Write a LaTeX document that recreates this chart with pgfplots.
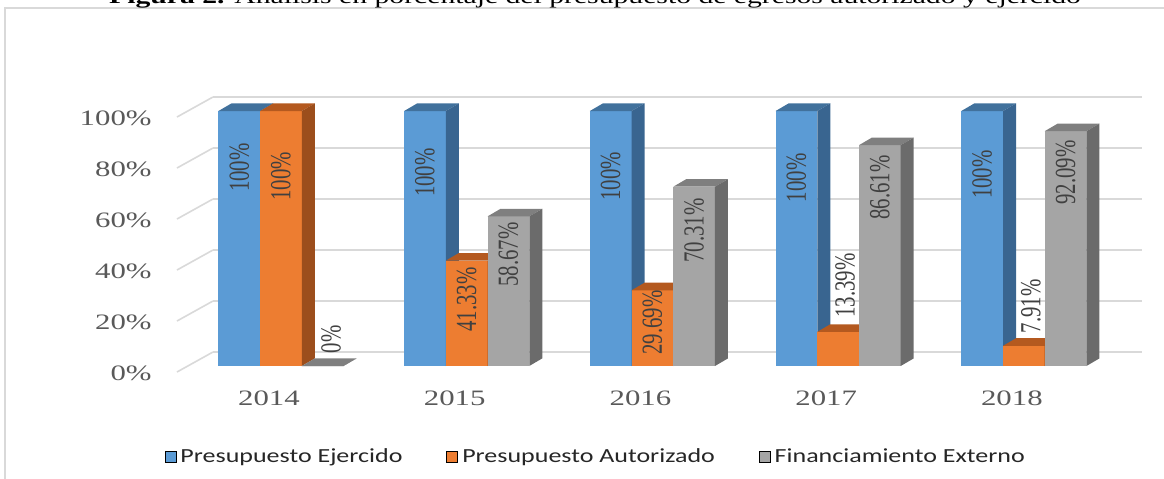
\documentclass[border=0pt]{standalone}
\usepackage{pgfplots}
\pgfplotsset{compat=1.18}
\usepackage{pgfplotstable}
\usepackage{fontspec}
\setmainfont{Liberation Serif}[FakeStretch=1.4]
\newfontfamily\labfont{Liberation Serif}
\newfontfamily\legfont{Carlito}[FakeStretch=1.3]

\definecolor{cBlue}{HTML}{5B9BD5}
\definecolor{cBlueT}{HTML}{41719C}
\definecolor{cBlueS}{HTML}{396590}
\definecolor{cOr}{HTML}{ED7D31}
\definecolor{cOrT}{HTML}{B4591F}
\definecolor{cOrS}{HTML}{9C4E1C}
\definecolor{cGr}{HTML}{A5A5A5}
\definecolor{cGrT}{HTML}{7F7F7F}
\definecolor{cGrS}{HTML}{6B6B6B}
\definecolor{gridc}{HTML}{D9D9D9}
\definecolor{tickc}{HTML}{595959}
\definecolor{labc}{HTML}{404040}
\definecolor{legc}{HTML}{262626}

% front face of a bar: from the value down to the floor
\pgfdeclareplotmark{front3d}{%
 \pgfpathmoveto{\pgfqpoint{-10.425pt}{0pt}}%
 \pgfpathlineto{\pgfqpoint{10.425pt}{0pt}}%
 \pgfpathlineto{\pgfpoint{10.425pt}{-\barH pt}}%
 \pgfpathlineto{\pgfpoint{-10.425pt}{-\barH pt}}%
 \pgfpathclose\pgfusepathqfill}
\pgfdeclareplotmark{top3d}{%
 \pgfpathmoveto{\pgfqpoint{-10.425pt}{0pt}}%
 \pgfpathlineto{\pgfqpoint{10.425pt}{0pt}}%
 \pgfpathlineto{\pgfqpoint{16.925pt}{3.8pt}}%
 \pgfpathlineto{\pgfqpoint{-3.925pt}{3.8pt}}%
 \pgfpathclose\pgfusepathqfill}
\pgfdeclareplotmark{side3d}{%
 \pgfpathmoveto{\pgfqpoint{10.425pt}{0pt}}%
 \pgfpathlineto{\pgfqpoint{16.925pt}{3.8pt}}%
 \pgfpathlineto{\pgfpoint{16.925pt}{3.8pt-\barH pt}}%
 \pgfpathlineto{\pgfpoint{10.425pt}{-\barH pt}}%
 \pgfpathclose\pgfusepathqfill}

% x: category index, v: value, ly: where the label's upper end sits, lx: label offset
\pgfplotstableread{
x v ly lx
0 100 87.5 0
1 100 85.5 0
2 100 84.0 0
3 100 83.5 0
4 100 84.7 0
}\tblBlue
\pgfplotstableread{
x v ly lx
0 100 84.0 0
1 41.33 38.8 0
2 29.69 29.8 0
3 13.39 44.3 0.038
4 7.91 34.1 0.038
}\tblOr
\pgfplotstableread{
x v ly lx
0 0 16.0 0.045
1 58.67 56.5 0
2 70.31 65.9 0
3 86.61 82.7 0
4 92.09 88.6 0
}\tblGr

\pgfplotsset{
  bar3d/.style n args={3}{only marks, forget plot,
    visualization depends on={\thisrow{v}*1.275 \as \barH},
    mark=#1, mark options={fill=#2, draw=none}},
  barlab/.style={draw=none, mark=none, only marks, forget plot, point meta=explicit symbolic,
    nodes near coords={\pgfplotspointmeta\%},
    nodes near coords style={font=\labfont\fontsize{10.4}{12}\selectfont, text=labc, anchor=east, inner sep=0pt, rotate=90, yscale=1.4}},
}

\begin{document}
\begin{tikzpicture}
\begin{axis}[
  at={(100pt,56pt)}, anchor=south west,
  scale only axis, width=464.5pt, height=127.5pt,
  xmin=-0.436, xmax=4.566, ymin=0, ymax=100,
  clip=false,
  axis line style={draw=none},
  tick style={draw=none},
  major tick length=0pt,
  xtick={0,1,2,3,4},
  xticklabels={2014,2015,2016,2017,2018},
  ytick={0,20,40,60,80,100},
  yticklabels={0\%,20\%,40\%,60\%,80\%,100\%},
  ymajorgrids,
  major grid style={draw=gridc, line width=0.8pt, xshift=6.5pt, yshift=7pt},
  yticklabel style={font=\fontsize{11}{13}\selectfont, text=tickc, anchor=east, inner sep=0pt, xshift=-24pt, yshift=-3.5pt},
  xticklabel style={font=\fontsize{11}{13}\selectfont, text=tickc, anchor=north, inner sep=0pt, xshift=-6pt, yshift=-12pt},
  legend image code/.code={\fill[#1] (0pt,-2.75pt) rectangle (5.5pt,2.75pt);},
  legend columns=3,
  legend style={at={(0.426,-0.357)}, anchor=center, draw=none, fill=none,
    font=\legfont\fontsize{10}{12}\selectfont, text=legc,
    nodes={inner sep=1pt},
    /tikz/every odd column/.append style={column sep=1pt},
    /tikz/every even column/.append style={column sep=21pt}},
]
\pgfplotsinvokeforeach{0,20,40,60,80,100}{%
  \draw[gridc, line width=0.8pt] ([xshift=-11.5pt,yshift=-3pt]axis cs:-0.436,#1) -- ([xshift=6.5pt,yshift=7pt]axis cs:-0.436,#1);
}
% Presupuesto Ejercido
\addplot[bar3d={front3d}{cBlue}{}] table[x expr=\thisrow{x}-0.2245, y=v]{\tblBlue};
\addplot[bar3d={top3d}{cBlueT}{}] table[x expr=\thisrow{x}-0.2245, y=v]{\tblBlue};
\addplot[bar3d={side3d}{cBlueS}{}] table[x expr=\thisrow{x}-0.2245, y=v]{\tblBlue};
% Presupuesto Autorizado
\addplot[bar3d={front3d}{cOr}{}] table[x=x, y=v]{\tblOr};
\addplot[bar3d={top3d}{cOrT}{}] table[x=x, y=v]{\tblOr};
\addplot[bar3d={side3d}{cOrS}{}] table[x=x, y=v]{\tblOr};
% Financiamiento Externo
\addplot[bar3d={front3d}{cGr}{}] table[x expr=\thisrow{x}+0.2245, y=v]{\tblGr};
\addplot[bar3d={top3d}{cGrT}{}] table[x expr=\thisrow{x}+0.2245, y=v]{\tblGr};
\addplot[bar3d={side3d}{cGrS}{}] table[x expr=\thisrow{x}+0.2245, y=v]{\tblGr};
% value labels
\addplot[barlab] table[x expr=\thisrow{x}-0.2245+\thisrow{lx}, y=ly, meta=v]{\tblBlue};
\addplot[barlab] table[x expr=\thisrow{x}+0.0001+\thisrow{lx}, y=ly, meta=v]{\tblOr};
\addplot[barlab] table[x expr=\thisrow{x}+0.2245+\thisrow{lx}, y=ly, meta=v]{\tblGr};
\addlegendimage{fill=cBlue}
\addlegendentry{Presupuesto Ejercido}
\addlegendimage{fill=cOr}
\addlegendentry{Presupuesto Autorizado}
\addlegendimage{fill=cGr}
\addlegendentry{Financiamiento Externo}
\end{axis}
\draw[gridc, line width=1pt] (2.5pt,-5pt) -- (2.5pt,235pt) -- (590pt,235pt);
\node[anchor=base, inner sep=0pt, font=\fontsize{10.6}{13}\selectfont] at (297.5pt,237pt) {\textbf{Figura 2.} Análisis en porcentaje del presupuesto de egresos autorizado y ejercido};
\pgfresetboundingbox
\useasboundingbox (0,0) rectangle (582pt,239pt);
\end{tikzpicture}
\end{document}
